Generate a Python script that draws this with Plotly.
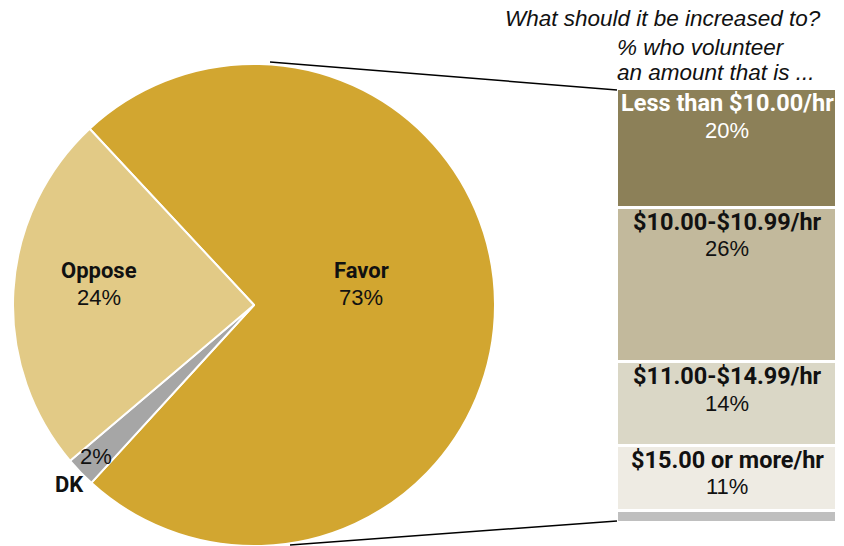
import plotly.graph_objects as go

# Pie: support for raising the minimum wage
pie_labels = ["Favor", "DK", "Oppose"]
pie_values = [73, 2, 24]
pie_colors = ["#D2A630", "#A6A6A6", "#E2CA86"]

# Breakdown of "Favor" by amount volunteered (bottom to top)
bar_labels = ["", "$15.00 or more/hr", "$11.00-$14.99/hr", "$10.00-$10.99/hr", "Less than $10.00/hr"]
bar_values = [2, 11, 14, 26, 20]
bar_colors = ["#BFBFBF", "#EEEBE3", "#DAD7C6", "#C2B99C", "#8C8058"]
bar_text_colors = ["#000000", "#111111", "#111111", "#111111", "#FFFFFF"]

W, H = 844, 546
BOLD = "Roboto"
REG = "Liberation Sans"
BSIZE, BARSIZE, RSIZE = 22, 23.5, 22

fig = go.Figure()

# pie geometry (pixels)
cx, cy, r = 254, 305, 241
fig.add_trace(go.Pie(
    labels=pie_labels, values=pie_values, sort=False,
    direction="clockwise", rotation=-43,
    marker=dict(colors=pie_colors, line=dict(color="white", width=2)),
    textinfo="none", hoverinfo="label+value", showlegend=False,
    domain=dict(x=[(cx - r) / W, (cx + r) / W],
                y=[max(0, (H - cy - r) / H), min(1, (H - cy + r) / H)]),
))

for i, (lab, val, col) in enumerate(zip(bar_labels, bar_values, bar_colors)):
    fig.add_trace(go.Bar(
        x=[0], y=[val], name=lab or "Other",
        marker=dict(color=col, line=dict(color="white", width=3)),
        width=1, showlegend=False, hoverinfo="name+y",
    ))

# labels on the stacked bar, placed near the top of each segment
cum = 0
for lab, val, tc in zip(bar_labels, bar_values, bar_text_colors):
    cum += val
    if not lab:
        continue
    fig.add_annotation(x=0, y=cum, xref="x", yref="y", text=f"<b>{lab}</b>",
                       showarrow=False, yanchor="middle", yshift=-14,
                       font=dict(family=BOLD, size=BARSIZE, color=tc))
    fig.add_annotation(x=0, y=cum, xref="x", yref="y", text=f"{val}%",
                       showarrow=False, yanchor="middle", yshift=-41,
                       font=dict(family=REG, size=RSIZE, color=tc))

def pa(x, y, text, fam, size, xanchor="center", color="#111111"):
    fig.add_annotation(x=x / W, y=1 - y / H, xref="paper", yref="paper", text=text,
                       showarrow=False, xanchor=xanchor, yanchor="middle",
                       font=dict(family=fam, size=size, color=color))

# pie labels
pa(361, 270, "<b>Favor</b>", BOLD, BSIZE)
pa(361, 297, "73%", REG, RSIZE)
pa(99, 270, "<b>Oppose</b>", BOLD, BSIZE)
pa(99, 297, "24%", REG, RSIZE)
pa(96, 456, "2%", REG, RSIZE)
pa(69, 484, "<b>DK</b>", BOLD, BSIZE)

# heading over the bar
pa(503, 19, "<i>What should it be increased to?</i>", REG, 22.5, xanchor="left")
pa(615, 47, "<i>% who volunteer</i>", REG, 22.5, xanchor="left")
pa(615, 73, "<i>an amount that is ...</i>", REG, 22.5, xanchor="left")

# connector lines from the pie to the bar
bx0, bx1, by0, by1 = 617, 837, 89, 523
fig.add_shape(type="line", xref="paper", yref="paper",
              x0=270 / W, y0=1 - 62 / H, x1=bx0 / W, y1=1 - 90 / H,
              line=dict(color="black", width=1.5))
fig.add_shape(type="line", xref="paper", yref="paper",
              x0=290 / W, y0=1 - 545 / H, x1=bx0 / W, y1=1 - 521 / H,
              line=dict(color="black", width=1.5))

fig.update_layout(
    width=W, height=H, margin=dict(l=0, r=0, t=0, b=0),
    paper_bgcolor="white", plot_bgcolor="white",
    barmode="stack", bargap=0,
    xaxis=dict(domain=[bx0 / W, bx1 / W], range=[-0.5, 0.5], visible=False, fixedrange=True),
    yaxis=dict(domain=[(H - by1) / H, (H - by0) / H], range=[0, sum(bar_values)],
               visible=False, fixedrange=True),
)

fig.write_html("out.html")
